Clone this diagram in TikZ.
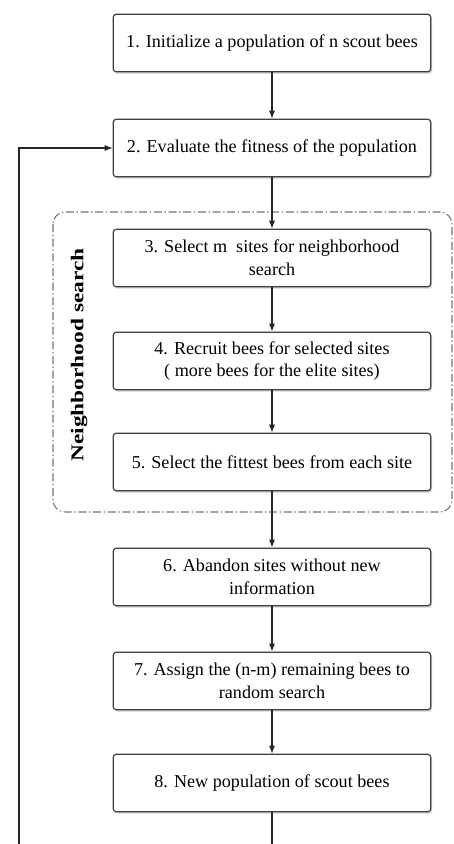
\documentclass[tikz,border=0pt]{standalone}
\usepackage{fontspec}
\setmainfont{Liberation Serif}
\usetikzlibrary{arrows.meta}
\usetikzlibrary{shadows}
\tikzset{
	stepbox/.style={draw=black!75, line width=0.9pt, fill=white, rounded corners=2pt,
		minimum width=238pt, minimum height=43pt, align=center,
		font=\fontsize{13.6}{17}\selectfont,
		drop shadow={shadow xshift=1pt, shadow yshift=-1.5pt, opacity=0.35}},
	flow/.style={line width=0.8pt, black!85, -{Latex[length=6pt,width=4.5pt]}},
	groupbox/.style={draw=black!55, line width=0.8pt, rounded corners=9pt,
		dash pattern=on 6pt off 2pt on 1pt off 2pt}
}

\begin{document}
\begin{tikzpicture}[x=0.75pt, y=-0.75pt]
	% 454 x 844 px
	\useasboundingbox (0,0) rectangle (454,844);
	% neighborhood search group
	\draw[groupbox] (53,212) rectangle (452,512);
	\node[rotate=90, xscale=1.3, font=\bfseries\fontsize{13.5}{15}\selectfont] (nlabel) at (79,355) {Neighborhood search};
	
	% steps
	\node[stepbox] (b1) at (272,43) {1. Initialize a population of n scout bees};
	\node[stepbox] (b2) at (272,148) {2. Evaluate the fitness of the population};
	\node[stepbox] (b3) at (272,258) {3. Select m\ \ sites for neighborhood\\search};
	\node[stepbox] (b4) at (272,361) {4. Recruit bees for selected sites\\( more bees for the elite sites)};
	\node[stepbox] (b5) at (272,462) {5. Select the fittest bees from each site};
	\node[stepbox] (b6) at (272,577) {6. Abandon sites without new\\information};
	\node[stepbox] (b7) at (272,681) {7. Assign the (n-m) remaining bees to\\random search};
	\node[stepbox] (b8) at (272,783) {8. New population of scout bees};
	
	% arrows
	\draw[flow] (b1) -- (b2);
	\draw[flow] (b2) -- (b3);
	\draw[flow] (b3) -- (b4);
	\draw[flow] (b4) -- (b5);
	\draw[flow] (b5) -- (b6);
	\draw[flow] (b6) -- (b7);
	\draw[flow] (b7) -- (b8);
	
	% loop back (runs below the page edge)
	\coordinate (loopbot) at (19,870);
	\draw[flow] (b8.south) |- (loopbot) |- (b2.west);
\end{tikzpicture}
\end{document}
